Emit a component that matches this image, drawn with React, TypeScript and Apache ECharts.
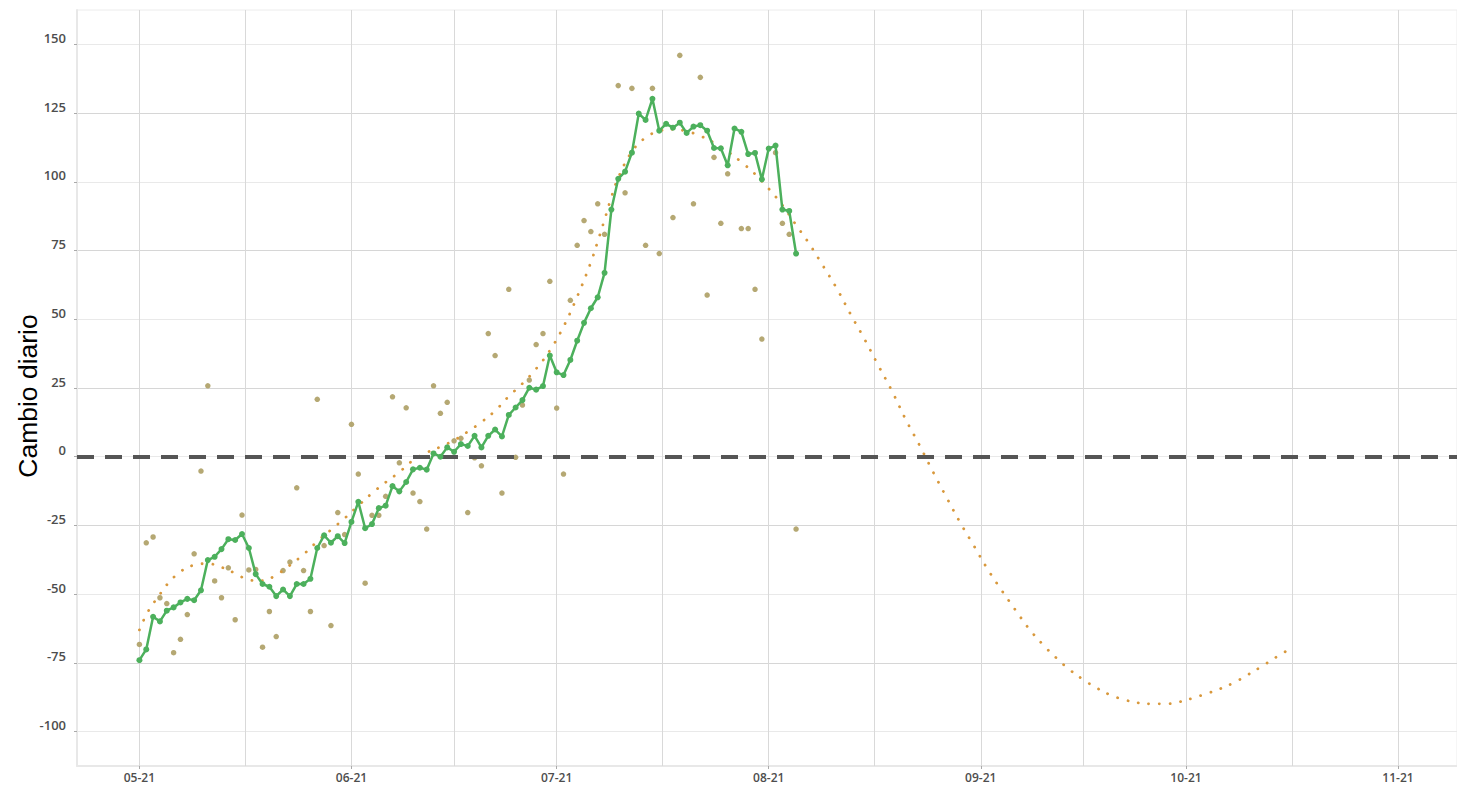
import React, { useEffect, useRef } from 'react';
import * as echarts from 'echarts';

// ---- Data ----
// 7-day average (green line), daily from 2021-05-01
const avgMay = [-74.0, -70.1, -58.2, -59.9, -56.0, -54.8, -53.0, -51.7, -52.2, -48.6, -37.6, -36.4, -33.6, -30.0, -30.3, -28.1, -33.2, -42.7, -46.3, -47.3, -50.7, -48.3, -50.7, -46.3, -46.3, -44.4, -33.2, -28.6, -31.3, -28.9, -31.4];
const avgJun = [-23.7, -16.4, -26.0, -24.5, -18.7, -17.8, -10.7, -12.6, -9.2, -4.6, -4.0, -4.7, 1.2, 0, 3.4, 1.8, 4.6, 3.9, 7.6, 3.4, 7.6, 9.9, 7.4, 15.2, 17.9, 20.6, 25.1, 24.4, 25.7, 36.8];
const avgJul = [30.7, 29.7, 35.2, 42.2, 48.7, 54.0, 58.0, 66.9, 89.9, 101.1, 103.7, 110.6, 124.8, 122.5, 130.2, 118.6, 121.1, 119.7, 121.5, 117.8, 120.1, 120.6, 118.6, 112.3, 112.2, 106.0, 119.4, 118.2, 110.1, 110.5, 100.9];
const avgAug = [112.1, 113.2, 89.9, 89.4, 73.9];

// daily change (olive dots); null = not visible in the picture
const rawMay = [-68.3, -31.3, -29.2, -51.3, -53.4, -71.3, -66.4, -57.4, -35.3, -5.2, 25.8, -45.2, -51.3, -40.4, -59.3, -21.2, -41.2, -41.0, -69.3, -56.3, -65.4, -41.4, -38.3, -11.3, -41.4, -56.3, 20.9, -32.3, -61.4, -20.3, -28.3];
const rawJun = [11.8, -6.3, -46.0, -21.3, -21.3, -14.4, 21.8, -2.2, 17.8, -13.2, -16.3, -26.3, 25.8, 15.8, 19.8, 5.8, 6.7, -20.3, -0.4, -3.3, 44.8, 36.8, -13.2, 60.9, -0.2, 18.8, 27.9, 40.8, 44.8, 63.8];
const rawJul = [17.7, -6.3, 56.9, 76.9, 85.9, 81.9, 92.0, 80.9, null, 135.0, 96.0, 134.0, null, 76.9, 134.0, 73.9, null, 87.0, 146.0, null, 92.0, 138.0, 58.8, 108.9, 84.9, 102.9, null, 83.0, 83.0, 60.9, 42.8];
const rawAug = [null, 110.6, 84.9, 80.9, -26.3];

// trend (dotted orange curve)
const trendDates = ['2021-05-01', '2021-05-02', '2021-05-03', '2021-05-04', '2021-05-05', '2021-05-07', '2021-05-09', '2021-05-11', '2021-05-13', '2021-05-15', '2021-05-17', '2021-05-19', '2021-05-21', '2021-05-23', '2021-05-25', '2021-05-27', '2021-05-29', '2021-05-31', '2021-06-02', '2021-06-04', '2021-06-06', '2021-06-08', '2021-06-10', '2021-06-12', '2021-06-14', '2021-06-16', '2021-06-18', '2021-06-20', '2021-06-22', '2021-06-24', '2021-06-26', '2021-06-28', '2021-06-30', '2021-07-02', '2021-07-04', '2021-07-06', '2021-07-07', '2021-07-08', '2021-07-09', '2021-07-10', '2021-07-12', '2021-07-14', '2021-07-16', '2021-07-18', '2021-07-20', '2021-07-22', '2021-07-24', '2021-07-26', '2021-07-28', '2021-07-30', '2021-08-01', '2021-08-03', '2021-08-05', '2021-08-07', '2021-08-09', '2021-08-11', '2021-08-13', '2021-08-15', '2021-08-17', '2021-08-19', '2021-08-21', '2021-08-23', '2021-08-25', '2021-08-27', '2021-08-29', '2021-08-31', '2021-09-02', '2021-09-04', '2021-09-06', '2021-09-08', '2021-09-10', '2021-09-12', '2021-09-14', '2021-09-16', '2021-09-18', '2021-09-20', '2021-09-22', '2021-09-24', '2021-09-26', '2021-09-28', '2021-09-30', '2021-10-02', '2021-10-04', '2021-10-06', '2021-10-08', '2021-10-10', '2021-10-12', '2021-10-14', '2021-10-16'];
const trendValues = [-63, -57.5, -53.5, -50, -46.6, -41.8, -39.4, -38.9, -40.2, -42.4, -44.8, -45.1, -43, -39.5, -35.5, -30.8, -26.6, -22.4, -17.8, -13.3, -9.3, -5.6, -1.3, 1.5, 3.6, 6, 9.1, 12.6, 16.7, 22, 26.6, 32, 38.6, 47.3, 58.2, 70.7, 78.3, 86.2, 94.4, 101.5, 111, 116.1, 118.5, 119.1, 118.4, 116.7, 114.2, 111, 107.2, 102.8, 97.5, 91.5, 84.3, 77.2, 69.2, 61, 51.7, 42.8, 33.3, 24, 13.7, 4.4, -5.4, -14.8, -24, -32.4, -40.9, -48.4, -55.5, -62.4, -68.1, -73.1, -77.5, -81.1, -84.2, -86.7, -88.4, -89.5, -89.9, -89.9, -89.2, -87.8, -86.2, -84.4, -82.2, -79.4, -76.4, -73.2, -70.2];

// axes
const monthTicks = ['2021-05-01', '2021-06-01', '2021-07-01', '2021-08-01', '2021-09-01', '2021-10-01', '2021-11-01'];
const midMonthLines = ['2021-05-16T12:00', '2021-06-16T00:00', '2021-07-16T12:00', '2021-08-16T12:00', '2021-09-16T00:00', '2021-10-16T12:00'];
const yTickLabels = [-100, -75, -50, -25, 0, 25, 50, 75, 100, 125, 150];
const yAxisName = 'Cambio diario';

function ts(s: string): number {
  const [d, t] = s.split('T');
  const [y, m, dd] = d.split('-').map(Number);
  let h = 0, mi = 0;
  if (t) { const p = t.split(':').map(Number); h = p[0]; mi = p[1]; }
  return new Date(y, m - 1, dd, h, mi).getTime();
}

function monthSeries(year: number, month: number, vals: (number | null)[]) {
  return vals.map((v, i) => [new Date(year, month - 1, i + 1).getTime(), v]);
}

export default function App() {
  const ref = useRef<HTMLDivElement>(null);
  useEffect(() => {
    if (!ref.current) return;
    const chart = echarts.init(ref.current, undefined, { renderer: 'svg' });
    const avgData = [
      ...monthSeries(2021, 5, avgMay),
      ...monthSeries(2021, 6, avgJun),
      ...monthSeries(2021, 7, avgJul),
      ...monthSeries(2021, 8, avgAug),
    ];
    const rawData = [
      ...monthSeries(2021, 5, rawMay),
      ...monthSeries(2021, 6, rawJun),
      ...monthSeries(2021, 7, rawJul),
      ...monthSeries(2021, 8, rawAug),
    ].filter((p) => p[1] !== null);
    const trendData = trendDates.map((d, i) => [ts(d), trendValues[i]]);
    const tickTs = monthTicks.map(ts);
    const vLines = [...monthTicks, ...midMonthLines].map((d) => ({ xAxis: ts(d) }));
    const labelFont = { color: '#4d4d4d', fontSize: 12.5, fontWeight: 600 as any, fontFamily: '"Open Sans", "Noto Sans", sans-serif' };

    chart.setOption({
      animation: false,
      backgroundColor: '#fff',
      grid: { left: 77, right: 0, top: 10, bottom: 19, show: true, borderColor: '#ececec', borderWidth: 1 },
      xAxis: {
        type: 'value',
        min: new Date(2021, 3, 21, 21).getTime(),
        max: new Date(2021, 10, 9, 15).getTime(),
        splitLine: { show: false },
        axisLine: { show: true, onZero: false, lineStyle: { color: '#e8e8e8', width: 2 } },
        axisTick: { show: true, customValues: tickTs, length: 3, lineStyle: { color: '#aaa' } },
        axisLabel: {
          ...labelFont,
          fontSize: 12,
          lineHeight: 12,
          margin: 5,
          customValues: tickTs,
          showMinLabel: true,
          showMaxLabel: true,
          formatter: (v: number) => {
            const d = new Date(v);
            return String(d.getMonth() + 1).padStart(2, '0') + '-' + String(d.getFullYear()).slice(2);
          },
        },
      },
      yAxis: {
        type: 'value',
        min: -112.5,
        max: 162.5,
        interval: 12.5,
        axisLine: { show: true, onZero: false, lineStyle: { color: '#e8e8e8', width: 2 } },
        axisTick: { show: true, customValues: yTickLabels, length: 3, lineStyle: { color: '#aaa' } },
        axisLabel: {
          ...labelFont,
          fontSize: 13,
          margin: 11,
          verticalAlign: 'bottom',
          customValues: yTickLabels,
          formatter: (v: number) => (Math.abs(v % 25) < 1e-9 ? String(v) : ''),
        },
        splitLine: { show: true, lineStyle: { color: ['#e9e9e9', '#d6d6d6'], width: 1 } },
      },
      graphic: [
        {
          type: 'text',
          x: 28,
          y: 396,
          rotation: Math.PI / 2,
          style: {
            text: yAxisName,
            fill: '#000',
            fontSize: 26.5,
            fontFamily: '"Liberation Sans", Arial, sans-serif',
            align: 'center',
            verticalAlign: 'middle',
          },
        },
      ],
      series: [
        {
          name: 'Diario',
          type: 'scatter',
          z: 2,
          data: rawData,
          symbolSize: 5.5,
          itemStyle: { color: '#b1a36c', opacity: 0.95 },
          silent: true,
          markLine: {
            silent: true,
            z: 1,
            symbol: ['none', 'none'],
            label: { show: false },
            lineStyle: { color: '#d9d9d9', width: 1, type: 'solid' },
            data: vLines,
          },
        },
        {
          name: 'Tendencia',
          type: 'line',
          z: 3,
          data: trendData,
          smooth: 0.4,
          showSymbol: false,
          lineStyle: { color: '#d8983c', width: 2.8, type: [0.1, 10.5], cap: 'round' },
          silent: true,
          markLine: {
            silent: true,
            z: 4,
            symbol: ['none', 'none'],
            label: { show: false },
            lineStyle: { color: '#555', width: 4, type: [17, 11] },
            data: [{ yAxis: 0 }],
          },
        },
        {
          name: 'Promedio',
          type: 'line',
          z: 6,
          data: avgData,
          symbol: 'circle',
          symbolSize: 6,
          showAllSymbol: true,
          lineStyle: { color: '#4cb05c', width: 2.5 },
          itemStyle: { color: '#4cb05c' },
          silent: true,
        },
      ],
    });
    return () => chart.dispose();
  }, []);
  return <div ref={ref} style={{ position: 'fixed', left: 0, top: 0, width: 1457, height: 785 }} />;
}
